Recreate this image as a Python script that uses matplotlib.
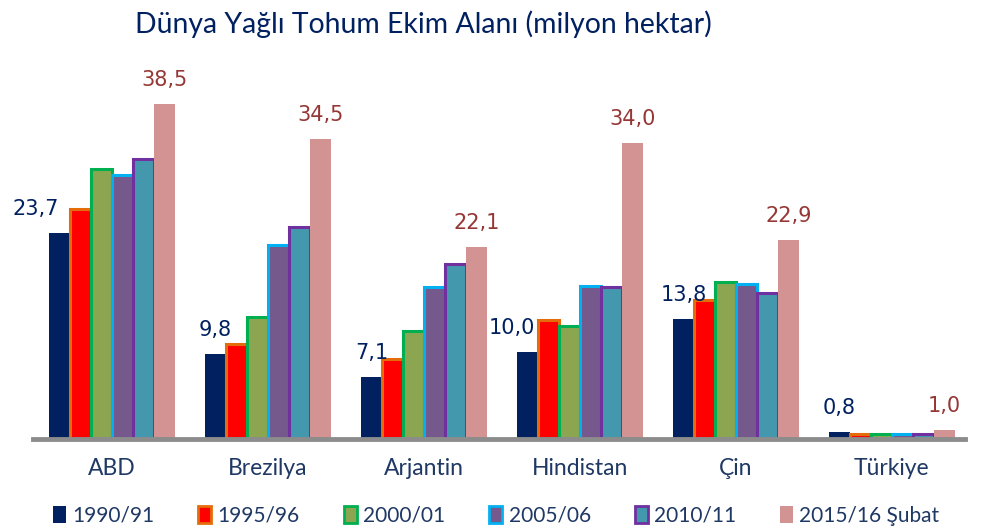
import matplotlib
matplotlib.use('Agg')
import matplotlib.pyplot as plt
import numpy as np
from matplotlib.patches import Patch

# veriler (milyon hektar)
countries = ['ABD', 'Brezilya', 'Arjantin', 'Hindistan', 'Çin', 'Türkiye']
seasons = ['1990/91', '1995/96', '2000/01', '2005/06', '2010/11', '2015/16 Şubat']
v1990 = [23.7, 9.8, 7.1, 10.0, 13.8, 0.8]
v1995 = [26.4, 10.9, 9.2, 13.7, 16.0, 0.6]
v2000 = [31.0, 14.0, 12.4, 13.0, 18.0, 0.6]
v2005 = [30.4, 22.3, 17.5, 17.6, 17.8, 0.6]
v2010 = [32.2, 24.4, 20.1, 17.5, 16.8, 0.6]
v2015 = [38.5, 34.5, 22.1, 34.0, 22.9, 1.0]
series = [v1990, v1995, v2000, v2005, v2010, v2015]

fills = ['#002060', '#FF0000', '#8CA550', '#75598C', '#4398AE', '#D39393']
edges = [None, '#E46C0A', '#00B050', '#00B0F0', '#7030A0', None]

fig = plt.figure(figsize=(9.81, 5.31), dpi=100)
ax = fig.add_axes([33 / 981, 1 - 439 / 531, 932 / 981, 348 / 531])

x = np.arange(len(countries))
w = 0.1346
for i, vals in enumerate(series):
    pos = x + (i - 2.5) * w
    if edges[i]:
        ax.bar(pos, vals, w, color=fills[i], edgecolor=edges[i], linewidth=2.2, zorder=2)
    else:
        ax.bar(pos, vals, w, color=fills[i], linewidth=0, zorder=2)

# etiketler: ilk ve son sezon
nudge = {0: -24, 3: -16}
for j, v in enumerate(v1990):
    ax.annotate(f'{v:.1f}'.replace('.', ','), (x[j] - 2.5 * w, v),
                xytext=(nudge.get(j, 0) * 0.72, 13), textcoords='offset points',
                ha='center', va='baseline', fontsize=15, color='#002060',
                family='DejaVu Sans')
for j, v in enumerate(v2015):
    ax.annotate(f'{v:.1f}'.replace('.', ','), (x[j] + 2.5 * w, v),
                xytext=(0, 13), textcoords='offset points',
                ha='center', va='baseline', fontsize=15, color='#953735',
                family='DejaVu Sans')

ax.set_xlim(-0.506, -0.506 + 932 / 156)
ax.set_ylim(0, 40)
ax.set_xticks(x)
ax.set_xticklabels(countries, fontsize=16.5, color='#1F3864', family='Lato')
ax.tick_params(axis='x', length=0, pad=14)
ax.set_yticks([])
for s in ['top', 'right', 'left']:
    ax.spines[s].set_visible(False)
ax.spines['bottom'].set_color('#8C8C8C')
ax.spines['bottom'].set_linewidth(3.5)
ax.spines['bottom'].set_zorder(3)

fig.text(423 / 981, 1 - 33 / 531, 'Dünya Yağlı Tohum Ekim Alanı (milyon hektar)',
         ha='center', va='baseline', fontsize=20.4, color='#002060', family='Lato')

handles = [Patch(facecolor=fills[i], edgecolor=edges[i] if edges[i] else fills[i],
                 linewidth=2 if edges[i] else 0) for i in range(6)]
fig.legend(handles, seasons, loc='center left', bbox_to_anchor=(53 / 981, 1 - 516 / 531),
           ncol=6, frameon=False, borderpad=0, borderaxespad=0,
           handlelength=0.62, handleheight=0.9, handletextpad=0.3, columnspacing=2.12,
           prop={'family': 'Lato', 'size': 15}, labelcolor='#1F3864')

fig.savefig('out.png', dpi=100)
